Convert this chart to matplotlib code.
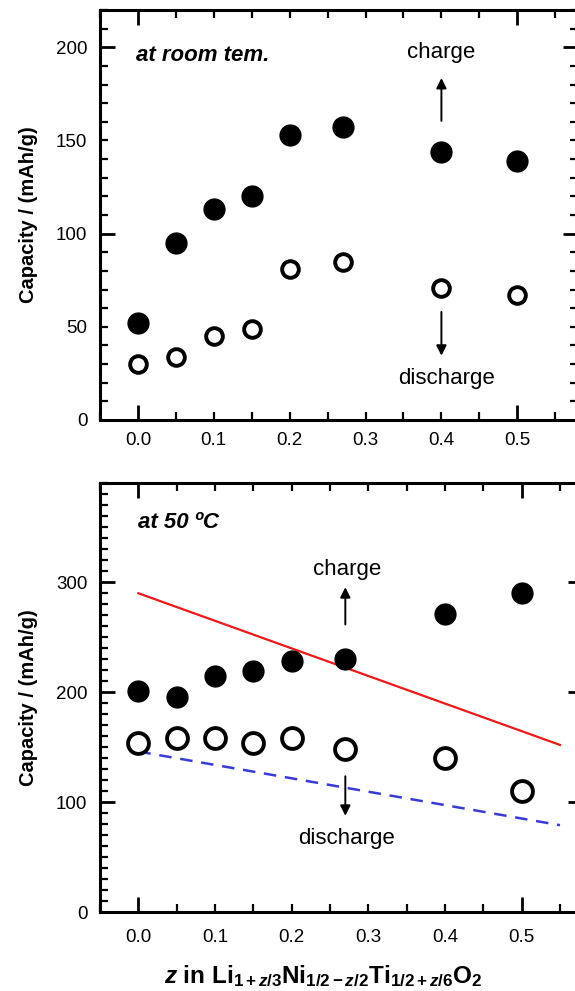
import matplotlib
matplotlib.use("Agg")
import matplotlib.pyplot as plt
from matplotlib.ticker import FixedLocator, MultipleLocator, FuncFormatter

plt.rcParams["font.family"] = ["Liberation Sans", "DejaVu Sans"]
plt.rcParams["mathtext.fontset"] = "custom"
plt.rcParams["mathtext.rm"] = "Liberation Sans"
plt.rcParams["mathtext.it"] = "Liberation Sans:italic"
plt.rcParams["mathtext.bf"] = "Liberation Sans:bold"
plt.rcParams["mathtext.bfit"] = "Liberation Sans:italic:bold"

# ---- data: room temperature ----
z_rt = [0.0, 0.05, 0.1, 0.15, 0.2, 0.27, 0.4, 0.5]
charge_rt = [52, 95, 113, 120, 153, 157, 144, 139]
discharge_rt = [30, 34, 45, 49, 81, 85, 71, 67]

# ---- data: 50 C ----
z_50 = [0.0, 0.05, 0.1, 0.15, 0.2, 0.27, 0.4, 0.5]
charge_50 = [201, 196, 215, 219, 228, 230, 271, 290]
discharge_50 = [154, 158, 158, 154, 158, 148, 140, 110]

# theoretical lines (50 C panel)
line_z = [0.0, 0.55]
line_charge = [290, 152]
line_discharge = [146, 79]

TXT = 16
TICK = 13.5
ARROW = dict(arrowstyle="-|>", lw=1.4, color="black", mutation_scale=15)

fig = plt.figure(figsize=(5.75, 9.91), dpi=100)
ax1 = fig.add_axes([0.1739, 0.5762, 0.8313, 0.4137])
ax2 = fig.add_axes([0.1739, 0.0797, 0.8400, 0.4326])


def style_axis(ax, ymax, ymajor, ylabel_step, xpad):
    ax.set_xlim(-0.05, 0.58)
    ax.set_ylim(0, ymax)
    for sp in ax.spines.values():
        sp.set_linewidth(2.2)
    # x ticks: long at 0.0 and 0.5, short every 0.05, labels every 0.1
    ax.xaxis.set_major_locator(FixedLocator([0.0, 0.5]))
    ax.xaxis.set_minor_locator(MultipleLocator(0.05))
    ax.xaxis.set_major_formatter(FuncFormatter(lambda v, p: f"{v:.1f}"))
    ax.xaxis.set_minor_formatter(
        FuncFormatter(lambda v, p: f"{v:.1f}" if round(v * 20) % 2 == 0 and v < 0.55 else ""))
    # y ticks
    ax.yaxis.set_major_locator(MultipleLocator(ymajor))
    ax.yaxis.set_minor_locator(MultipleLocator(10))
    ax.yaxis.set_major_formatter(FuncFormatter(lambda v, p: f"{v:.0f}"))
    ax.yaxis.set_minor_formatter(
        FuncFormatter(lambda v, p: f"{v:.0f}" if round(v) % ylabel_step == 0 else ""))
    ax.tick_params(which="both", direction="in", top=True, right=True,
                   labelsize=TICK, pad=9, color="black")
    ax.tick_params(axis="x", which="both", pad=xpad)
    ax.tick_params(which="major", length=11, width=2)
    ax.tick_params(which="minor", length=5.5, width=1.6)
    ax.set_ylabel("Capacity / (mAh/g)", fontsize=14.5, fontweight="bold", labelpad=13)


# ---- top panel ----
style_axis(ax1, 220, 100, 50, 9)
ax1.plot(z_rt, charge_rt, "o", color="black", ms=15, mew=1, zorder=5)
ax1.plot(z_rt, discharge_rt, "o", mfc="white", mec="black", ms=12, mew=2.8, zorder=5)
ax1.text(-0.003, 195.5, "at room tem.", fontsize=TXT, fontweight="bold",
         fontstyle="italic", ha="left", va="center")
ax1.text(0.4, 197, "charge", fontsize=TXT, ha="center", va="center")
ax1.annotate("", xy=(0.4, 185), xytext=(0.4, 159), arrowprops=ARROW)
ax1.text(0.407, 22, "discharge", fontsize=TXT, ha="center", va="center")
ax1.annotate("", xy=(0.4, 33), xytext=(0.4, 59.5), arrowprops=ARROW)

# ---- bottom panel ----
style_axis(ax2, 390, 100, 100, 12)
ax2.plot(line_z, line_charge, "-", color="#f01818", lw=1.6, zorder=3)
ax2.plot(line_z, line_discharge, "--", color="#3a3ad8", lw=1.8, dashes=(5, 3.5), zorder=3)
ax2.plot(z_50, charge_50, "o", color="black", ms=15, mew=1, zorder=5)
ax2.plot(z_50, discharge_50, "o", mfc="white", mec="black", ms=15, mew=2.8, zorder=5)
ax2.text(0.0, 354, "at 50 \u00baC", fontsize=TXT, fontweight="bold",
         fontstyle="italic", ha="left", va="center")
ax2.text(0.272, 311.5, "charge", fontsize=TXT, ha="center", va="center")
ax2.annotate("", xy=(0.27, 298), xytext=(0.27, 259), arrowprops=ARROW)
ax2.text(0.272, 66.5, "discharge", fontsize=TXT, ha="center", va="center")
ax2.annotate("", xy=(0.27, 85), xytext=(0.27, 126), arrowprops=ARROW)

xlab = (r"$\mathbfit{z}\ \mathbf{in\ Li}_{\mathbf{1+}\mathbfit{z}\mathbf{/3}}"
        r"\mathbf{Ni}_{\mathbf{1/2-}\mathbfit{z}\mathbf{/2}}"
        r"\mathbf{Ti}_{\mathbf{1/2+}\mathbfit{z}\mathbf{/6}}\mathbf{O}_{\mathbf{2}}$")
fig.text(323 / 575, 0.0084, xlab, fontsize=17.5, ha="center", va="baseline")

fig.savefig("out.png", dpi=100)
